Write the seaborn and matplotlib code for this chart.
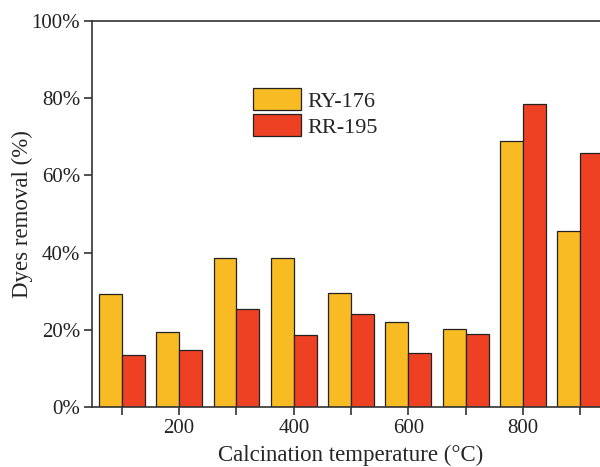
import matplotlib
matplotlib.use("Agg")
import matplotlib.pyplot as plt
import seaborn as sns
import pandas as pd
from matplotlib.ticker import FuncFormatter, FixedLocator

temperatures = [100, 200, 300, 400, 500, 600, 700, 800, 900]
ry176 = [29.3, 19.4, 38.6, 38.6, 29.5, 22.0, 20.2, 68.9, 45.5]
rr195 = [13.5, 14.8, 25.4, 18.7, 24.1, 14.0, 18.9, 78.6, 65.8]
series_names = ["RY-176", "RR-195"]
x_tick_labels = ["", "200", "", "400", "", "600", "", "800", ""]
y_ticks = [0, 20, 40, 60, 80, 100]

df = pd.DataFrame({
    "temp": temperatures * 2,
    "removal": ry176 + rr195,
    "dye": [series_names[0]] * len(temperatures) + [series_names[1]] * len(temperatures),
})

sns.set_style("ticks")
plt.rcParams["font.family"] = ["Liberation Serif", "DejaVu Serif"]

fig = plt.figure(figsize=(6.0, 4.67), dpi=100)
ax = fig.add_axes([92 / 600, 60 / 467, 517 / 600, 386 / 467])

sns.barplot(data=df, x="temp", y="removal", hue="dye", native_scale=True,
            palette=["#F8BB24", "#EE4124"], edgecolor="#222222", linewidth=0.9,
            saturation=1, ax=ax, errorbar=None)

ax.set_xlim(48, 950)
ax.set_ylim(0, 100)
ax.xaxis.set_major_locator(FixedLocator(temperatures))
ax.set_xticklabels(x_tick_labels)
ax.set_yticks(y_ticks)
ax.yaxis.set_major_formatter(FuncFormatter(lambda v, p: f"{int(v)}%"))
ax.tick_params(axis="both", direction="out", length=5.5, width=1.1, labelsize=15, colors="#222222")
ax.tick_params(axis="x", pad=3)
ax.tick_params(axis="y", pad=3)
for s in ax.spines.values():
    s.set_linewidth(1.2)
    s.set_color("#333333")
    s.set_visible(True)

ax.set_xlabel("Calcination temperature (°C)", fontsize=16.5, labelpad=5)
ax.set_ylabel("Dyes removal (%)", fontsize=16.5, labelpad=-1)

leg = ax.legend(loc="upper left", bbox_to_anchor=(0.311, 0.826), frameon=False,
                fontsize=16, handlelength=2.15, handleheight=1.15, labelspacing=0.12,
                handletextpad=0.3, borderaxespad=0, borderpad=0)
for h in leg.legend_handles:
    h.set_edgecolor("#222222")
    h.set_linewidth(0.9)

fig.savefig("out.png", dpi=100)
